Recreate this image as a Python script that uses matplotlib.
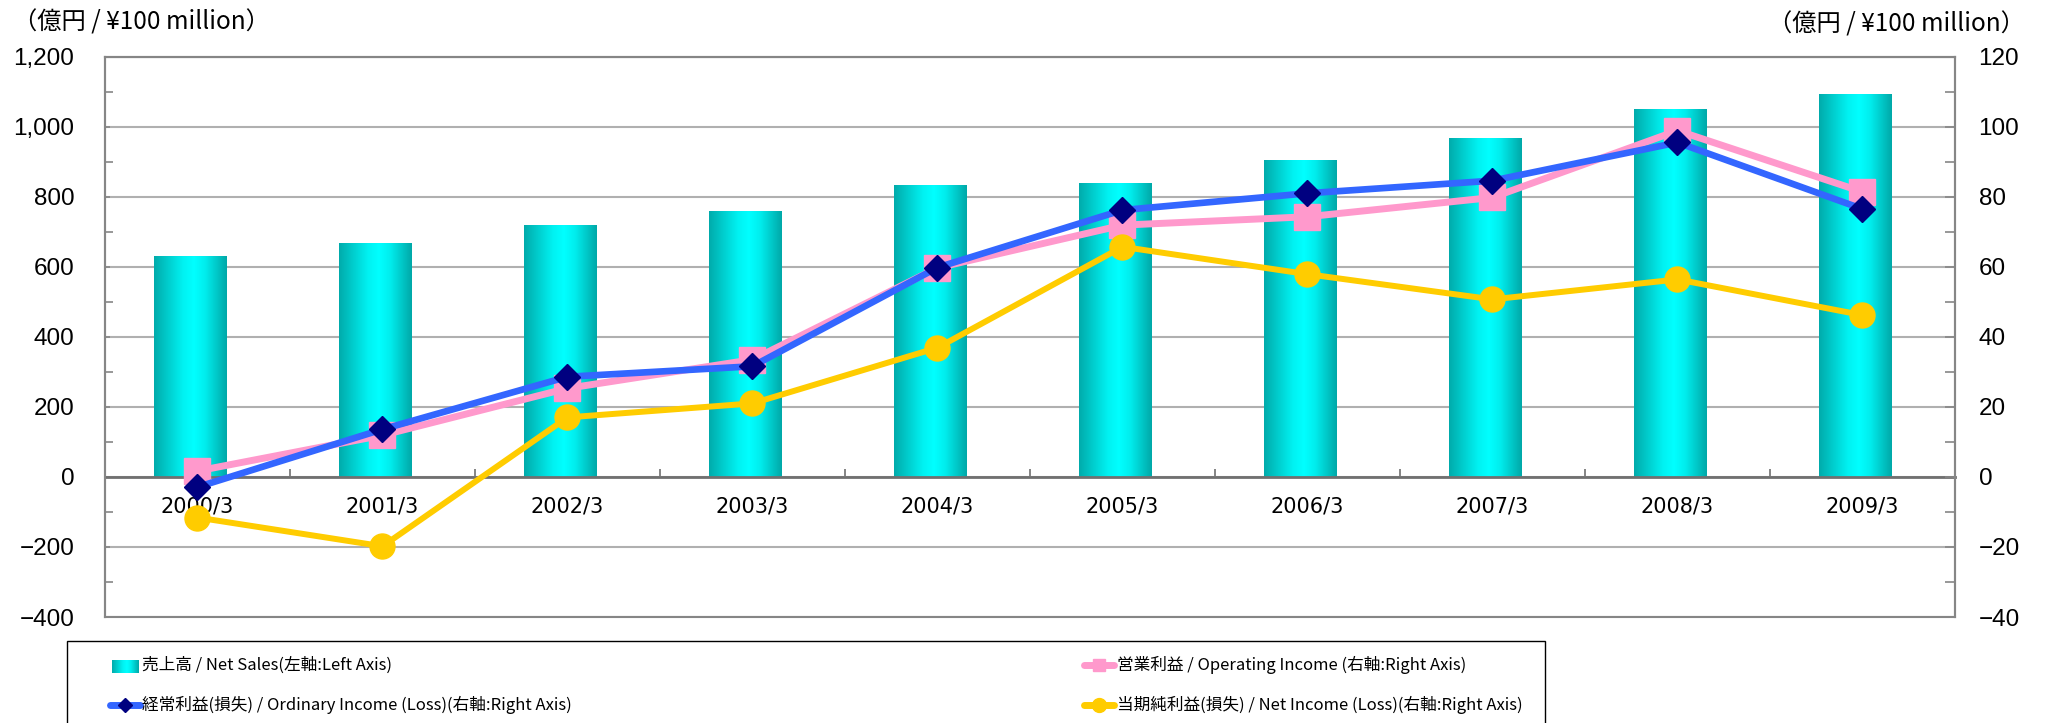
import matplotlib
matplotlib.use('Agg')
import matplotlib.pyplot as plt
import numpy as np
from matplotlib.colors import LinearSegmentedColormap
from matplotlib.lines import Line2D
from matplotlib.patches import Rectangle
from matplotlib.ticker import MultipleLocator, FuncFormatter

years = ['2000/3', '2001/3', '2002/3', '2003/3', '2004/3',
         '2005/3', '2006/3', '2007/3', '2008/3', '2009/3']
net_sales = [630, 669, 719, 759, 833, 839, 905, 967, 1050, 1093]
operating_income = [1.7, 11.9, 25.3, 33.5, 59.7, 71.9, 74.3, 79.8, 98.9, 81.4]
ordinary_income = [-2.9, 13.6, 28.6, 31.6, 59.8, 76.2, 81.0, 84.6, 95.5, 76.5]
net_income = [-11.6, -19.8, 17.0, 21.0, 36.9, 65.7, 57.9, 50.7, 56.4, 46.2]

lbl_sales = '売上高 / Net Sales(左軸:Left Axis)'
lbl_ordinary = '経常利益(損失) / Ordinary Income (Loss)(右軸:Right Axis)'
lbl_operating = '営業利益 / Operating Income (右軸:Right Axis)'
lbl_net = '当期純利益(損失) / Net Income (Loss)(右軸:Right Axis)'
unit_label = '（億円 / ¥100 million）'

W, H = 2045, 723
jp = 'Noto Sans CJK JP'
spine_c = '#868686'
pink, blue, navy, yellow = '#ff99cc', '#3366ff', '#000080', '#ffcc00'

fig = plt.figure(figsize=(W / 100, H / 100), dpi=100)
ax = fig.add_axes([105 / W, 1 - 617 / H, 1850 / W, (617 - 56.7) / H])
ax2 = ax.twinx()

x = np.arange(len(years))

# bars with horizontal cyan gradient
grad_cmap = LinearSegmentedColormap.from_list(
    'bar', [(0, '#00abab'), (0.4, '#00f2f2'), (0.55, '#00ffff'),
            (0.7, '#00eeee'), (1, '#00a8a8')])
grad = np.linspace(0, 1, 256).reshape(1, -1)
rects = ax.bar(x - 0.04, net_sales, width=0.39, color='none', edgecolor='none', zorder=2)
for r in rects:
    im = ax.imshow(grad, cmap=grad_cmap, aspect='auto', zorder=2,
                   extent=[r.get_x(), r.get_x() + r.get_width(), 0, r.get_height()])
    im.set_clip_path(r)

ax.set_xlim(-0.5, 9.5)
ax.set_ylim(-400, 1200)
ax2.set_ylim(-40, 120)

ax.set_yticks(np.arange(-400, 1201, 200))
ax.yaxis.set_minor_locator(MultipleLocator(100))
ax.yaxis.set_major_formatter(FuncFormatter(lambda v, p: f'{v:,.0f}'.replace('-', '\u2212')))
ax.yaxis.grid(True, color='#b0b0b0', lw=1.5)
ax.set_axisbelow(True)
ax2.set_yticks(np.arange(-40, 121, 20))
ax2.yaxis.set_minor_locator(MultipleLocator(10))
ax2.yaxis.set_major_formatter(FuncFormatter(lambda v, p: f'{v:.0f}'.replace('-', '\u2212')))

ax.set_xticks(x)
ax.set_xticklabels(years)
ax.set_xticks(np.arange(-0.5, 10, 1), minor=True)
ax.tick_params(axis='x', which='major', length=0, pad=14, labelsize=15)
ax.tick_params(axis='x', which='minor', direction='in', length=6, color='#707070', width=1.2)

ax.tick_params(axis='y', which='both', direction='in', color=spine_c, width=1.2,
               labelsize=17.5, pad=22)
ax.tick_params(axis='y', which='minor', length=6)
ax2.tick_params(axis='y', which='both', direction='in', color=spine_c, width=1.2,
                labelsize=17.5, pad=17, length=7)
for lab in ax.get_yticklabels() + ax2.get_yticklabels():
    lab.set_family('Liberation Sans')
for lab in ax.get_xticklabels():
    lab.set_family(jp)

ax.spines['bottom'].set_position(('data', 0))
ax.spines['bottom'].set_color('#707070')
ax.spines['bottom'].set_linewidth(2)
for s in ['top', 'left', 'right']:
    ax.spines[s].set_color(spine_c)
    ax.spines[s].set_linewidth(1.5)
for s in ax2.spines.values():
    s.set_color(spine_c)
    s.set_linewidth(1.5)

# income lines on the right axis
ax2.plot(x, operating_income, color=pink, lw=5, marker='s', ms=19, mfc=pink, mec=pink, zorder=3)
ax2.plot(x, ordinary_income, color=blue, lw=4.8, marker='D', ms=13.5, mfc=navy, mec=navy, zorder=4)
ax2.plot(x, net_income, color=yellow, lw=4.3, marker='o', ms=18, mfc=yellow, mec=yellow, zorder=5)

fig.text(13 / W, 1 - 23 / H, unit_label, fontsize=17.5, family=jp, va='center')
fig.text(2025 / W, 1 - 25 / H, unit_label, fontsize=17.5, family=jp, va='center', ha='right')

# legend, laid out by hand inside a box that runs off the bottom edge
fig.add_artist(Rectangle((67 / W, -0.05), (1545 - 67) / W, 0.05 + 1 - 641 / H,
                         transform=fig.transFigure, fill=False, edgecolor='black', lw=1))
row1, row2 = 1 - 665 / H, 1 - 705 / H
hax = fig.add_axes([112 / W, 1 - 673 / H, 27 / W, 13 / H])
hax.imshow(grad, cmap=grad_cmap, aspect='auto')
hax.axis('off')


def line_handle(x0, y, color, marker, ms, mfc):
    fig.add_artist(Line2D([x0 / W, (x0 + 30) / W], [y, y], transform=fig.transFigure,
                          color=color, lw=5, solid_capstyle='round'))
    fig.add_artist(Line2D([(x0 + 15) / W], [y], transform=fig.transFigure,
                          marker=marker, ms=ms, mfc=mfc, mec=mfc, ls='none'))


line_handle(110, row2, blue, 'D', 7.5, navy)
line_handle(1084, row1, pink, 's', 9, pink)
line_handle(1084, row2, yellow, 'o', 10, yellow)

leg_size = 12
fig.text(142 / W, row1, lbl_sales, fontsize=leg_size, family=jp, va='center')
fig.text(142 / W, row2, lbl_ordinary, fontsize=leg_size, family=jp, va='center')
fig.text(1117 / W, row1, lbl_operating, fontsize=leg_size, family=jp, va='center')
fig.text(1117 / W, row2, lbl_net, fontsize=leg_size, family=jp, va='center')

fig.savefig('out.png', dpi=100)
